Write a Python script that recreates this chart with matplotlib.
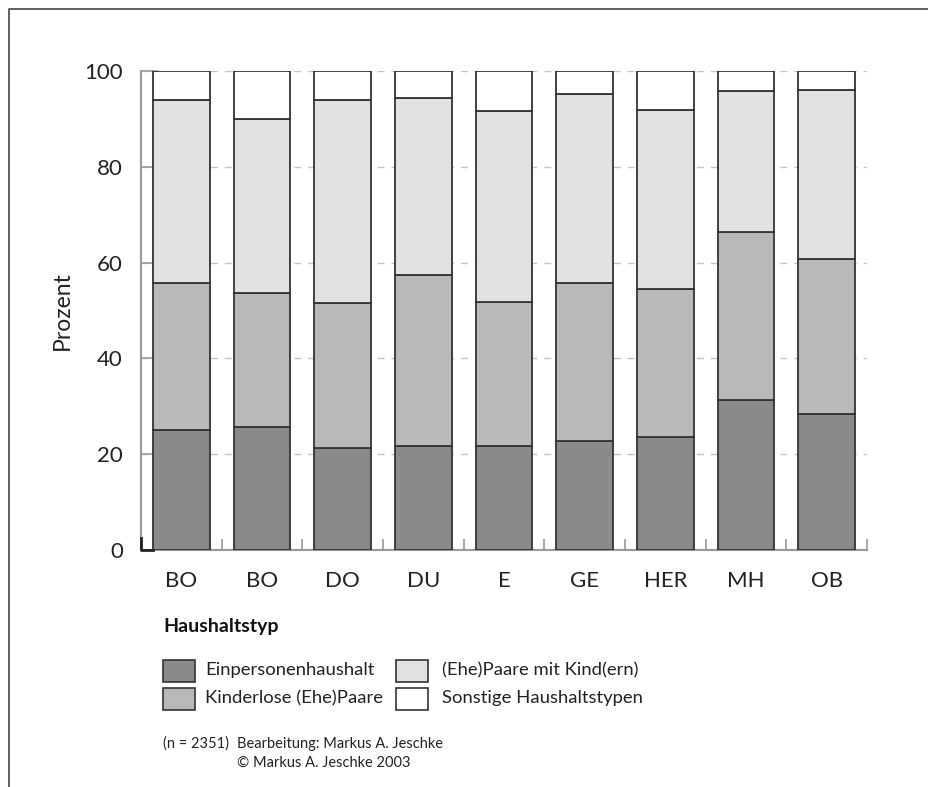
import matplotlib
matplotlib.use('Agg')
import matplotlib.pyplot as plt
from matplotlib.patches import Rectangle
from matplotlib.lines import Line2D
import numpy as np

plt.rcParams['font.family'] = ['Lato', 'DejaVu Sans']

cities = ['BO', 'BO', 'DO', 'DU', 'E', 'GE', 'HER', 'MH', 'OB']
einpersonen = [25.1, 25.7, 21.3, 21.7, 21.7, 22.7, 23.6, 31.3, 28.4]
kinderlos = [30.7, 27.9, 30.2, 35.8, 30.1, 33.1, 30.9, 35.0, 32.4]
mit_kind = [38.1, 36.3, 42.4, 36.8, 39.9, 39.5, 37.4, 29.5, 35.2]
sonstige = [6.1, 10.1, 6.1, 5.7, 8.3, 4.7, 8.1, 4.2, 4.0]

series = [einpersonen, kinderlos, mit_kind, sonstige]
labels = ['Einpersonenhaushalt', 'Kinderlose (Ehe)Paare',
          '(Ehe)Paare mit Kind(ern)', 'Sonstige Haushaltstypen']
colors = ['#8a8a8a', '#b9b9b9', '#e2e2e2', '#ffffff']

W, H = 929, 787
fig = plt.figure(figsize=(W / 100, H / 100), dpi=100)
ax = fig.add_axes([141 / W, 1 - 550 / H, (867 - 141) / W, (550 - 71) / H])

x = np.arange(len(cities))
bottom = np.zeros(len(cities))
for vals, col in zip(series, colors):
    ax.bar(x, vals, 0.7, bottom=bottom, color=col, edgecolor='#333333',
           linewidth=1.3, zorder=3)
    bottom += np.array(vals)

ax.set_xlim(-0.5, len(cities) - 0.5)
ax.set_ylim(0, 100)
ax.set_yticks([0, 20, 40, 60, 80, 100])
ax.set_xticks(x)
ax.set_xticklabels(cities)
ax.set_xticks(np.arange(-0.5, len(cities)), minor=True)
ax.tick_params(axis='x', which='major', length=0, pad=15, labelsize=16,
               labelcolor='#222222')
ax.tick_params(axis='x', which='minor', direction='in', length=8,
               color='#999999', width=1.2)
ax.tick_params(axis='y', direction='in', length=12, color='#999999',
               width=1.2, pad=13, labelsize=16, labelcolor='#222222')
ax.yaxis.grid(True, linestyle=(0, (5, 5)), color='#c4c4c4', linewidth=1,
              zorder=0)
ax.set_axisbelow(True)
for s in ['top', 'right']:
    ax.spines[s].set_visible(False)
for s in ['left', 'bottom']:
    ax.spines[s].set_color('#999999')
    ax.spines[s].set_linewidth(1.5)
ax.set_ylabel('Prozent', fontsize=16.5, color='#222222', labelpad=8)

# small dark corner mark at origin
ax.plot([-0.5, -0.5, -0.35], [2.5, 0, 0], color='#222222', lw=2,
        clip_on=False, zorder=4)

# outer frame (top and left)
fig.add_artist(Line2D([9 / W, 9 / W, 1], [0, 1 - 9 / H, 1 - 9 / H],
                      transform=fig.transFigure, color='#444444', lw=1.2))

# legend
fig.text(163 / W, 1 - 632 / H, 'Haushaltstyp', fontsize=14,
         fontweight='bold', va='baseline', ha='left', color='#111111')
pos = [(163, 671), (163, 699), (396, 671), (396, 699)]
tx = [205, 205, 442, 442]
for (px, py), t, lab, col in zip(pos, tx, labels, colors):
    fig.add_artist(Rectangle((px / W, 1 - (py + 11) / H), 32 / W, 22 / H,
                             transform=fig.transFigure, facecolor=col,
                             edgecolor='#333333', lw=1.2))
    fig.text(t / W, 1 - (py + 4) / H, lab, fontsize=13.3, va='baseline',
             ha='left', color='#222222')

fig.text(163 / W, 1 - 748 / H, '(n = 2351)', fontsize=10.5, va='baseline',
         ha='left', color='#222222')
fig.text(237 / W, 1 - 748 / H, 'Bearbeitung: Markus A. Jeschke',
         fontsize=10.5, va='baseline', ha='left', color='#222222')
fig.text(237 / W, 1 - 767 / H, '\u00a9 Markus A. Jeschke 2003',
         fontsize=10.5, va='baseline', ha='left', color='#222222')

fig.savefig('out.png', dpi=100, facecolor='white')
